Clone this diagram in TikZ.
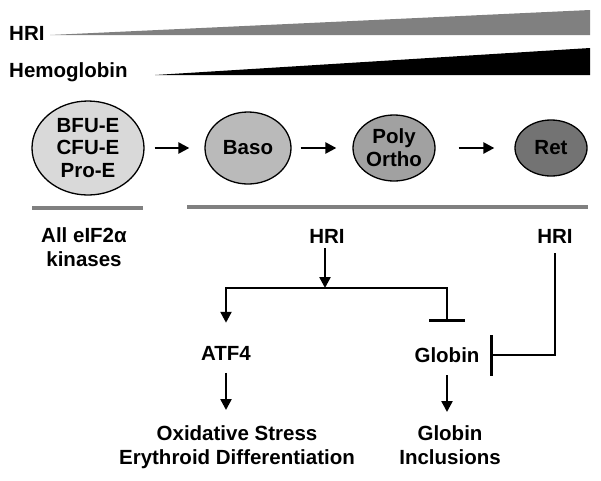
\documentclass[tikz,border=0pt]{standalone}
\usepackage{fontspec}
\setmainfont{Liberation Sans}
\usetikzlibrary{shapes.geometric,arrows.meta}
\begin{document}
\begin{tikzpicture}[x=1pt,y=-1pt,
		every node/.style={font=\bfseries\fontsize{20.5}{24.5}\selectfont,inner sep=0pt,align=center},
		cell/.style={ellipse,draw=black,line width=1.3pt,inner sep=0pt},
		arr/.style={line width=2.4pt,-{Triangle[width=11pt,length=11pt]}},
		inh/.style={line width=2.4pt,-{Bar[width=36pt]}},
		base/.style={line width=4pt,black!50}]
				\useasboundingbox (0,0) rectangle (601,480);
				\fill [black!50] (50,35) -- (590,35) -- (590,10) -- cycle;
				\fill [black] (155,75) -- (590,75) -- (590,48) -- cycle;
				\node [anchor=west] (hrilbl) at (9,33) {HRI};
				\node [anchor=west] (hblbl) at (9,72) {Hemoglobin};
				\node [cell,fill=black!15,minimum width=112pt,minimum height=94pt,font=\bfseries\fontsize{20.5}{22.5}\selectfont] (bfu) at (88,148) {BFU-E\\CFU-E\\Pro-E};
				\node [cell,fill=black!27,minimum width=86pt,minimum height=72pt] (baso) at (248,148) {Baso};
				\node [cell,fill=black!37,minimum width=82pt,minimum height=66pt,font=\bfseries\fontsize{20.5}{23}\selectfont] (poly) at (394,148) {Poly\\Ortho};
				\node [cell,fill=black!55,minimum width=72pt,minimum height=56pt] (ret) at (551,148) {Ret};
				\draw [arr,shorten <=10pt,shorten >=15pt] (bfu.east) -- (baso.west);
				\draw [arr,shorten <=9pt,shorten >=16pt] (baso.east) -- (poly.west);
				\draw [arr,shorten <=23pt,shorten >=20pt] (poly.east) -- (ret.west);
				\draw [base] (32,208) -- (143,208);
				\draw [base] (187,207) -- (588,207);
				\node (kinases) at (84,247) {All eIF2α\\kinases};
				\node (hri1) at (327,236) {HRI};
				\node (hri2) at (555,236) {HRI};
				\coordinate (split) at (325,288);
				\node (atf4) at (226,353) {ATF4};
				\node (globin) at (447,355) {Globin};
				\node [anchor=north] (oxid) at (237,425) {Oxidative Stress\\Erythroid Differentiation};
				\node [anchor=north] (incl) at (450,425) {Globin\\Inclusions};
				\draw [arr,shorten <=5pt] (hri1.south -| split) -- (split);
				\draw [arr,shorten >=23pt] (split) -| (atf4.north);
				\draw [inh,shorten >=25.5pt] (split) -| (globin.north);
				\draw [inh,-{Bar[width=41pt]},shorten <=10pt,shorten >=10.5pt] (hri2.south) |- (globin.east);
				\draw [arr,shorten <=12.5pt,shorten >=15pt] (atf4.south) -- (atf4.south |- oxid.north);
				\draw [arr,shorten <=12.5pt,shorten >=13pt] (globin.south) -- (globin.south |- incl.north);
			\end{tikzpicture}
\end{document}
